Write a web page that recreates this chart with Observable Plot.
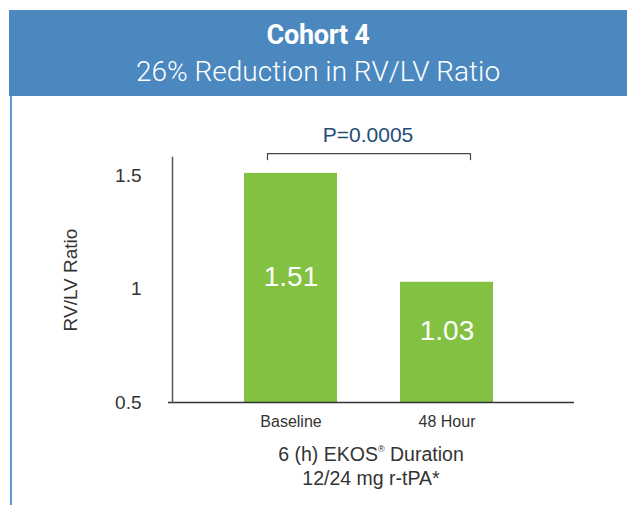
<!DOCTYPE html>
<html>
<head>
<meta charset="utf-8">
<script src="https://cdn.jsdelivr.net/npm/d3@7"></script>
<script src="https://cdn.jsdelivr.net/npm/@observablehq/plot@0.6"></script>
<style>
  html, body { margin: 0; padding: 0; background: #fff; }
  body { width: 627px; height: 505px; position: relative; overflow: hidden; font-family: "Liberation Sans", Arial, sans-serif; }
  #header { position: absolute; left: 9px; top: 10px; width: 618px; height: 86px; background: #4a88bf; color: #fff; text-align: center; font-family: Roboto, sans-serif; }
  #title { font-weight: bold; font-size: 27px; line-height: 30px; padding-top: 10px; letter-spacing: -0.3px; }
  #subtitle { font-size: 28px; line-height: 32px; margin-top: 6px; font-weight: 300; }
  #leftline { position: absolute; left: 10px; top: 96px; width: 2px; height: 409px; background: #5b9bd5; }
  #chart { position: absolute; left: 0; top: 96px; }
  #caption { position: absolute; left: 172px; width: 398px; top: 437px; text-align: center; font-size: 19.5px; line-height: 24px; color: #333; }
  #caption sup { font-size: 9px; vertical-align: 9px; }
</style>
</head>
<body>
<div id="header"><div id="title">Cohort 4</div><div id="subtitle">26% Reduction in RV/LV Ratio</div></div>
<div id="leftline"></div>
<div id="chart"></div>
<div id="caption">6 (h) EKOS<sup>®</sup> Duration<br>12/24 mg r-tPA*</div>
<script>
const categories = ["Baseline", "48 Hour"];
const values = [1.51, 1.03];
const yTicks = [0.5, 1, 1.5];
const pLabel = "P=0.0005";

const data = categories.map((c, i) => ({category: c, value: values[i]}));

const chart = Plot.plot({
  width: 627,
  height: 340,
  marginLeft: 172,
  marginRight: 53,
  marginTop: 61,
  marginBottom: 34,
  style: {fontFamily: "Liberation Sans, Arial, sans-serif", color: "#333", background: "transparent"},
  x: {domain: categories, range: [172, 565], paddingInner: 0.404, paddingOuter: 0.4615, label: null},
  y: {domain: [0.5, 1.58], label: null, ticks: yTicks, tickFormat: d => String(d)},
  marks: [
    Plot.barY(data, {x: "category", y1: 0.5, y2: "value", fill: "#82c141"}),
    Plot.text(data, {x: "category", y: d => (d.value + 0.5) / 2, text: d => d.value.toFixed(2), fill: "#fff", fontSize: 28, dy: -11}),
    Plot.axisY({ticks: yTicks, tickFormat: d => String(d), tickSize: 0, tickPadding: 31, fontSize: 19, label: null}),
    Plot.axisX({tickSize: 0, tickPadding: 13, fontSize: 16, label: null}),
    Plot.text(["RV/LV Ratio"], {frameAnchor: "left", rotate: -90, dx: -102, fontSize: 19, fill: "#333", textAnchor: "middle"}),
    Plot.ruleY([0.5], {stroke: "#333", strokeWidth: 1.5, insetLeft: -4}),
    Plot.frame({anchor: "left", stroke: "#555", strokeWidth: 1.5}),
    Plot.ruleY([1.597], {x1: () => categories[0], x2: () => categories[1], stroke: "#444", strokeWidth: 1.2, insetLeft: 23, insetRight: 23}),
    Plot.ruleX([categories[0]], {y1: 1.566, y2: 1.597, dx: -23.5, stroke: "#444", strokeWidth: 1.2}),
    Plot.ruleX([categories[1]], {y1: 1.566, y2: 1.597, dx: 23.5, stroke: "#444", strokeWidth: 1.2}),
    Plot.text([pLabel], {y: 1.677, frameAnchor: "middle", dx: -5.5, text: d => d, fontSize: 21, fill: "#1f4e79"})
  ]
});
document.getElementById("chart").appendChild(chart);
</script>
</body>
</html>
